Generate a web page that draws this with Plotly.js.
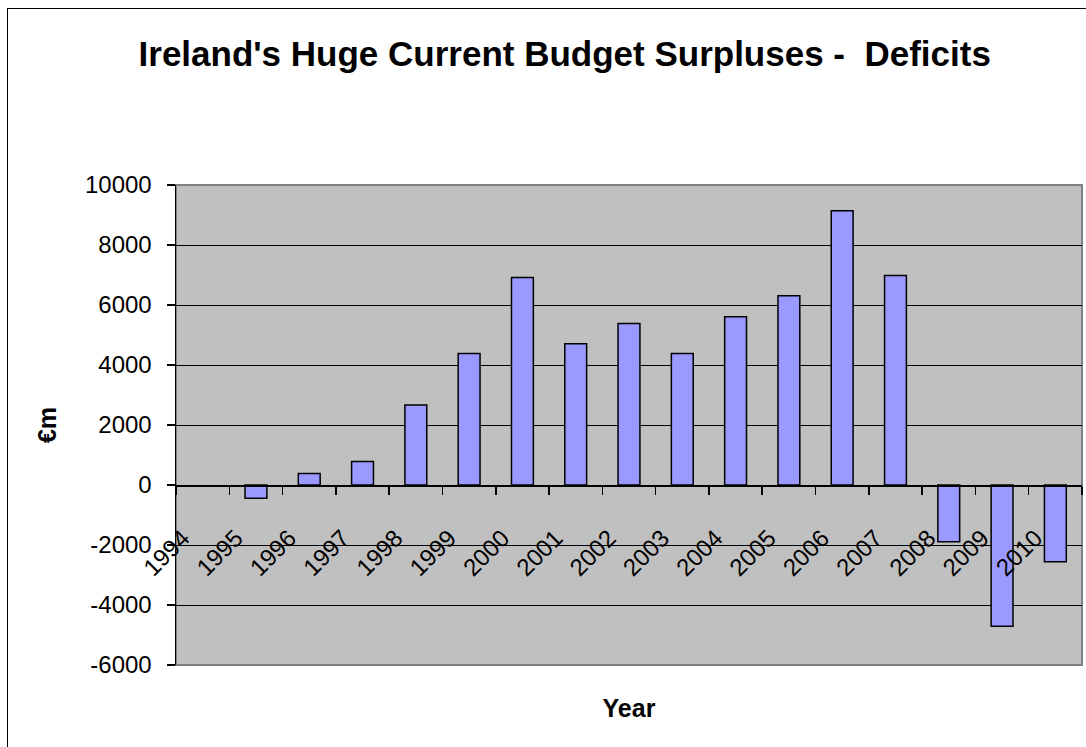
<!DOCTYPE html>
<html>
<head>
<meta charset="utf-8">
<script src="https://cdn.plot.ly/plotly-3.0.1.min.js"></script>
<style>
  html, body { margin: 0; padding: 0; background: #fff; }
  #wrap { position: relative; width: 1086px; height: 747px; overflow: hidden; }
  #chart { width: 1086px; height: 747px; }
  #frame { position: absolute; left: 7px; top: 8px; width: 1100px; height: 800px;
           border-left: 1px solid #000; border-top: 1px solid #000; pointer-events: none; }
</style>
</head>
<body>
<div id="wrap">
  <div id="chart"></div>
  <div id="frame"></div>
</div>
<script>
const years = ['1994','1995','1996','1997','1998','1999','2000','2001','2002','2003','2004','2005','2006','2007','2008','2009','2010'];
const balance = [null, -440, 380, 780, 2670, 4380, 6920, 4710, 5380, 4380, 5610, 6310, 9140, 6980, -1890, -4710, -2560];
const yTicks = [-6000, -4000, -2000, 0, 2000, 4000, 6000, 8000, 10000];

const font = 'Liberation Sans, Arial, sans-serif';

const trace = {
  type: 'bar',
  x: years,
  y: balance,
  marker: { color: '#9999FF', line: { color: '#000000', width: 1.5 } },
  hoverinfo: 'x+y'
};

const layout = {
  width: 1086, height: 747,
  margin: { l: 176, r: 4, t: 185, b: 82, pad: 0 },
  paper_bgcolor: '#ffffff',
  plot_bgcolor: '#C0C0C0',
  showlegend: false,
  bargap: 0.59,
  title: {
    text: "Ireland's Huge Current Budget Surpluses -  Deficits",
    font: { family: font, size: 35, color: '#000', weight: 'bold' },
    x: 0.52, xanchor: 'center', y: 0.928, yanchor: 'middle'
  },
  xaxis: {
    type: 'category',
    anchor: 'free', position: 0.375,
    showline: true, linecolor: '#000', linewidth: 1.5,
    showgrid: false, zeroline: false,
    ticks: 'outside', ticklen: 8, tickcolor: '#000', tickwidth: 1.5,
    tickson: 'boundaries',
    tickangle: -45,
    ticklabelstandoff: 28,
    ticklabelshift: -20,
    tickfont: { family: font, size: 24, color: '#000' },
    title: { text: 'Year', font: { family: font, size: 25, color: '#000', weight: 'bold' }, standoff: 119 },
    automargin: false
  },
  yaxis: {
    range: [-6000, 10000],
    tickvals: yTicks,
    ticktext: yTicks.map(String),
    showline: true, linecolor: '#000', linewidth: 1.5,
    showgrid: true, gridcolor: '#000', gridwidth: 1,
    zeroline: false,
    ticks: 'outside', ticklen: 8, tickcolor: '#000', tickwidth: 1.5,
    ticklabelstandoff: 10,
    tickfont: { family: font, size: 24, color: '#000' },
    title: { text: '€m', font: { family: font, size: 25, color: '#000', weight: 'bold' }, standoff: 21 },
    automargin: false
  },
  shapes: [{
    type: 'rect', xref: 'paper', yref: 'paper', x0: 0, x1: 1, y0: 0, y1: 1,
    line: { color: '#808080', width: 2 }, fillcolor: 'rgba(0,0,0,0)', layer: 'below'
  }]
};

Plotly.newPlot('chart', [trace], layout, { displayModeBar: false, staticPlot: true });
</script>
</body>
</html>
